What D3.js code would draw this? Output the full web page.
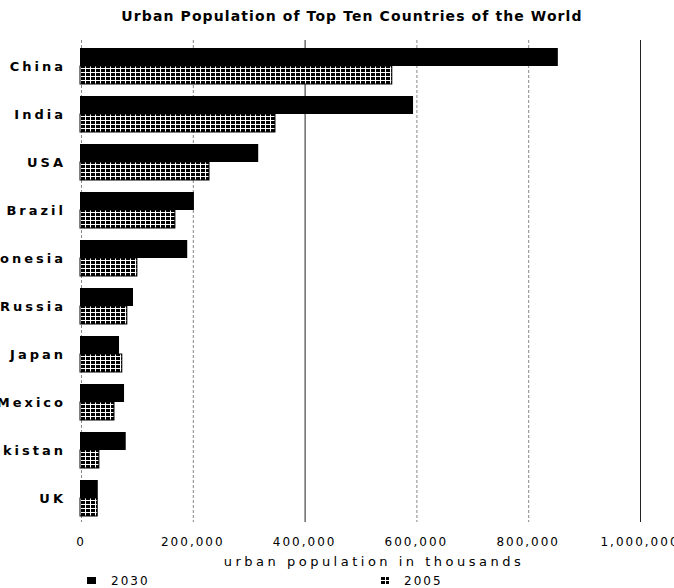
<!DOCTYPE html>
<html>
<head>
<meta charset="utf-8">
<script src="https://cdn.jsdelivr.net/npm/d3@7"></script>
<style>
  body { margin: 0; background: #fff; }
  svg text { font-family: "DejaVu Sans", Verdana, sans-serif; fill: #000; }
</style>
</head>
<body>
<div id="chart"></div>
<script>
// urban population (thousands)
var countries = ["China", "India", "USA", "Brazil", "Indonesia", "Russia", "Japan", "Mexico", "Pakistan", "UK"];
var pop2030 = [853000, 594000, 317000, 202000, 190000, 93000, 68000, 77000, 80000, 30000];
var pop2005 = [556000, 347000, 229000, 168000, 100000, 82000, 73000, 59000, 32000, 29000];
var seriesNames = ["2030", "2005"];
var xTicks = [0, 200000, 400000, 600000, 800000, 1000000];

var width = 674, height = 588;
var svg = d3.select("#chart").append("svg")
            .attr("width", width).attr("height", height);

// hatch-ish fill for the 2005 bars
var defs = svg.append("defs");
var pat = defs.append("pattern").attr("id", "hatch")
              .attr("patternUnits", "userSpaceOnUse")
              .attr("width", 5).attr("height", 4);
pat.append("rect").attr("width", 5).attr("height", 4).attr("fill", "#000");
pat.append("rect").attr("x", 0).attr("y", 0).attr("width", 5).attr("height", 1).attr("fill", "#fff");
pat.append("rect").attr("x", 0).attr("y", 0).attr("width", 1).attr("height", 4).attr("fill", "#fff");

var x = d3.scaleLinear().domain([0, 1000000]).range([81, 640]);
var y = d3.scaleBand().domain(countries).range([42, 522])
          .paddingInner(0.25).paddingOuter(0.125);
var ySub = d3.scaleBand().domain(seriesNames).range([0, y.bandwidth()]);

// title
svg.append("text")
   .attr("x", 352).attr("y", 21)
   .attr("text-anchor", "middle")
   .style("font-size", "14px").style("font-weight", "bold")
   .style("letter-spacing", "1.1px")
   .text("Urban Population of Top Ten Countries of the World");

// grid lines
svg.append("g").selectAll("line").data(xTicks).enter().append("line")
   .attr("x1", function(d){ return x(d) + 0.5; })
   .attr("x2", function(d){ return x(d) + 0.5; })
   .attr("y1", 40).attr("y2", 522)
   .attr("stroke", function(d){ return d == 400000 || d == 1000000 ? "#222" : "#888"; })
   .attr("stroke-dasharray", function(d){ return d == 400000 || d == 1000000 ? null : "3,2"; })
   .attr("stroke-width", 1);

// bars
var groups = svg.append("g").selectAll("g").data(countries).enter().append("g")
                .attr("transform", function(d){ return "translate(0," + y(d) + ")"; });
groups.append("rect")
      .attr("x", x(0) - 1)
      .attr("y", ySub("2030"))
      .attr("width", function(d, i){ return x(pop2030[i]) - x(0) + 1; })
      .attr("height", ySub.bandwidth())
      .attr("fill", "#000");
groups.append("rect")
      .attr("x", x(0) - 1)
      .attr("y", ySub("2005"))
      .attr("width", function(d, i){ return x(pop2005[i]) - x(0) + 1; })
      .attr("height", ySub.bandwidth())
      .attr("fill", "url(#hatch)")
      .attr("stroke", "#000").attr("stroke-width", 1);

// category labels (run off the left edge like the original)
svg.append("g").selectAll("text").data(countries).enter().append("text")
   .attr("x", 66)
   .attr("y", function(d){ return y(d) + y.bandwidth() / 2; })
   .attr("dy", "0.35em")
   .attr("text-anchor", "end")
   .style("font-size", "13px").style("font-weight", "bold")
   .style("letter-spacing", "3px")
   .text(function(d){ return d; });

// x tick labels
var fmt = d3.format(",");
svg.append("g").selectAll("text").data(xTicks).enter().append("text")
   .attr("x", function(d){ return x(d); })
   .attr("y", 546)
   .attr("text-anchor", "middle")
   .style("font-size", "12px").style("letter-spacing", "2px")
   .text(function(d){ return fmt(d); });

// axis title
svg.append("text")
   .attr("x", 374).attr("y", 566)
   .attr("text-anchor", "middle")
   .style("font-size", "13px").style("letter-spacing", "3.5px")
   .text("urban population in thousands");

// legend
var legendX = [87, 380];
var leg = svg.append("g").selectAll("g").data(seriesNames).enter().append("g")
             .attr("transform", function(d, i){ return "translate(" + legendX[i] + ",0)"; });
leg.append("rect")
   .attr("x", 0).attr("y", 577).attr("width", 9).attr("height", 7)
   .attr("fill", function(d, i){ return i == 0 ? "#000" : "url(#hatch)"; });
leg.append("text")
   .attr("x", 24).attr("y", 585)
   .style("font-size", "12px").style("letter-spacing", "2px")
   .text(function(d){ return d; });
</script>
</body>
</html>
